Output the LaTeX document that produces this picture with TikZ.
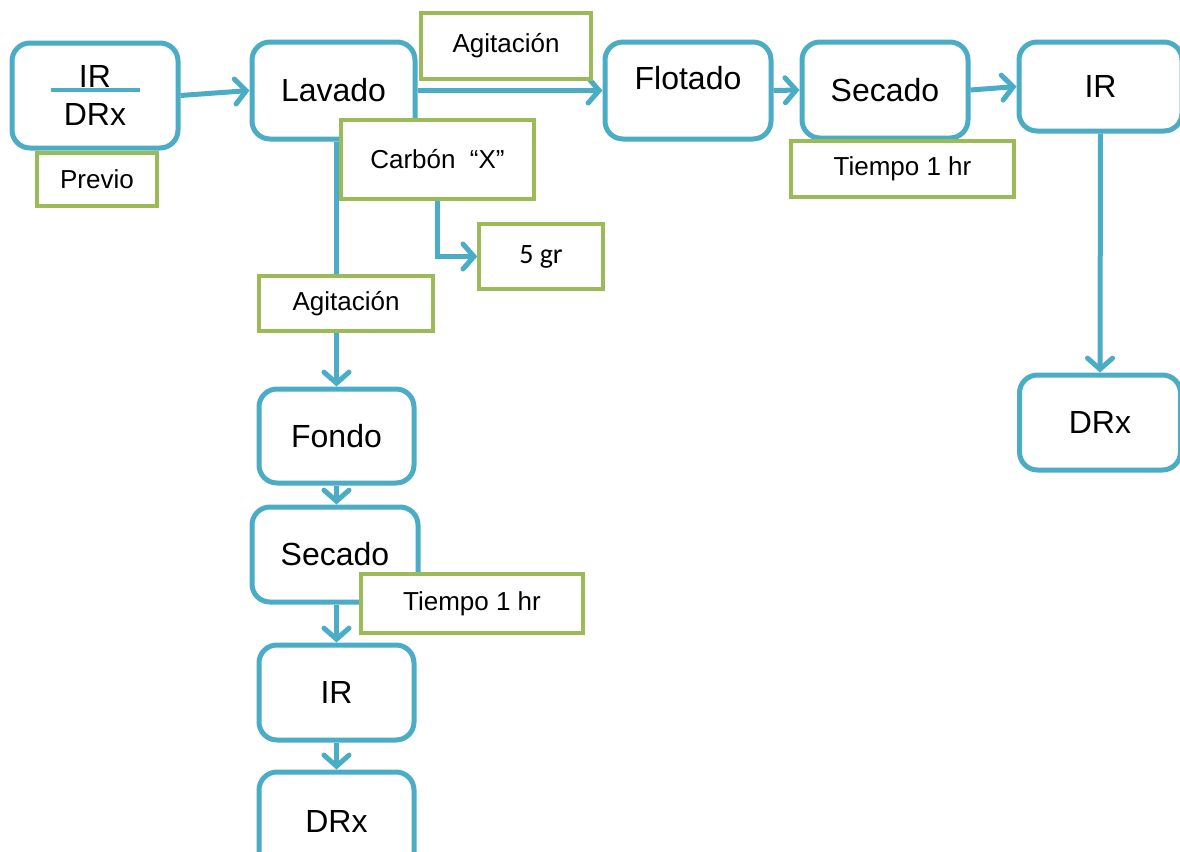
\documentclass[tikz,border=0pt]{standalone}
\usepackage{fontspec}
\setmainfont{Liberation Sans}
\newfontfamily\calib{Carlito}
\usetikzlibrary{arrows.meta}
\definecolor{flowblue}{HTML}{4BACC6}
\definecolor{notegreen}{HTML}{9BBB59}
\begin{document}
\begin{tikzpicture}[x=0.5pt,y=-0.5pt,
  bbox/.style={draw=flowblue, line width=2.5pt, rounded corners=9pt, fill=white,
    inner sep=0pt, font=\fontsize{16}{19}\selectfont, align=center},
  gbox/.style={draw=notegreen, line width=1.7pt, fill=white, inner sep=0pt,
    font=\fontsize{13}{15}\selectfont},
  arr/.style={draw=flowblue, line width=2.5pt,
    -{Straight Barb[length=5.5pt,width=12.5pt,line cap=round]}}]
\useasboundingbox (0,0) rectangle (1180,852);

% process boxes
\node[bbox, minimum width=83pt, minimum height=52.5pt] (pre) at (95,95.5) {IR\\DRx};
\node[bbox, minimum width=81.5pt, minimum height=48.5pt] (lav) at (333.5,90.5) {Lavado};
\node[bbox, minimum width=83pt, minimum height=48.5pt,
  label={[yshift=6.25pt, font=\fontsize{16}{19}\selectfont]center:Flotado}] (flot) at (688,90.5) {};
\node[bbox, minimum width=83pt, minimum height=48pt] (sec) at (885,90) {Secado};
\node[bbox, minimum width=81.5pt, minimum height=44.5pt] (irr) at (1100.5,86.5) {IR};
\node[bbox, minimum width=80.5pt, minimum height=47.5pt] (drxr) at (1100,422.5) {DRx};
\node[bbox, minimum width=77.5pt, minimum height=47pt] (fon) at (336.5,436) {Fondo};
\node[bbox, minimum width=83pt, minimum height=47.5pt] (secb) at (335,554.5) {Secado};
\node[bbox, minimum width=77.5pt, minimum height=47.5pt] (irb) at (336.5,692.5) {IR};
\node[bbox, minimum width=77.5pt, minimum height=49pt] (drxb) at (336.5,821) {DRx};

% fraction bar between IR and DRx
\draw[flowblue, line width=2pt] ([xshift=-22.25pt, yshift=2.75pt]pre.center)
  -- ([xshift=22.25pt, yshift=2.75pt]pre.center);

% connectors
\draw[arr] (pre.east) -- (lav.west);
\draw[arr] (lav.east) -- (flot.west);
\draw[arr] (flot.east) -- (sec.west);
\draw[arr] (sec.east) -- (irr.west);
\draw[arr] (irr.south) -- (drxr.north);
\draw[arr] (lav.south -| fon.north) -- (fon.north);
\draw[arr] (fon.south) -- (fon.south |- secb.north);
\draw[arr] (secb.south -| irb.north) -- (irb.north);
\draw[arr] (irb.south) -- (drxb.north);

% notes
\node[gbox, minimum width=60pt, minimum height=26.5pt] (prev) at (97,179.5) {Previo};
\node[gbox, minimum width=85pt, minimum height=33pt] (agt) at (506,46) {Agitación};
\node[gbox, minimum width=96.5pt, minimum height=39.5pt] (carb) at (437.5,159.5) {Carbón~~“X”};
\node[gbox, minimum width=62pt, minimum height=32.5pt, font=\calib\fontsize{14}{16}\selectfont] (five) at (541,256.5) {5 gr};
\node[gbox, minimum width=87pt, minimum height=27.5pt] (agb) at (346,303.5) {Agitación};
\node[gbox, minimum width=111.5pt, minimum height=28pt] (tt) at (902.5,169) {Tiempo 1 hr};
\node[gbox, minimum width=111pt, minimum height=29.5pt] (tb) at (472,603.5) {Tiempo 1 hr};

% carbon dose
\draw[arr] (carb.south) |- (five.west);
\end{tikzpicture}
\end{document}
